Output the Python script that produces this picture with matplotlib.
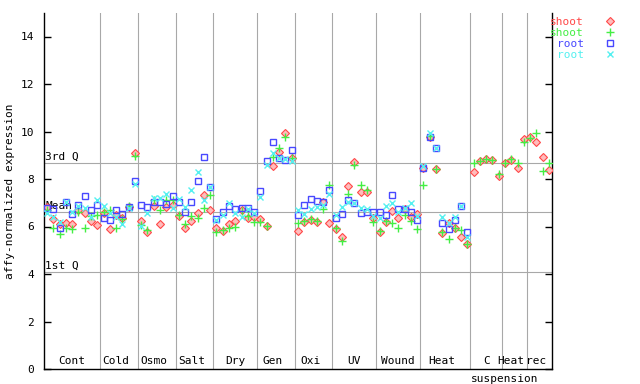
import numpy as np
import matplotlib
matplotlib.use('Agg')
import matplotlib.pyplot as plt
from matplotlib.lines import Line2D

# groups of samples along the x axis
groups = ['Cont', 'Cold', 'Osmo', 'Salt', 'Dry', 'Gen', 'Oxi', 'UV', 'Wound',
          'Heat', 'C', 'Heat', 'rec']
group_sizes = [9, 6, 6, 6, 7, 6, 6, 7, 7, 8, 5, 4, 4]

# shoot, first probe (red diamonds)
shoot_1 = [6.82, 6.30, 6.12, 6.13, 6.10, 6.69, 6.55, 6.25, 6.05,
           6.58, 5.88, 6.50, 6.35, 6.83, 9.08,
           6.25, 5.75, 6.86, 6.09, 6.83, 6.90,
           6.45, 5.95, 6.25, 6.55, 7.32, 6.69,
           5.95, 5.82, 6.10, 6.23, 6.69, 6.34, 6.41,
           6.32, 6.02, 8.55, 9.12, 9.92, 8.87,
           5.81, 6.20, 6.27, 6.20, 7.05, 6.13,
           5.88, 5.57, 7.72, 8.70, 7.47, 7.47, 6.34,
           5.75, 6.18, 6.65, 6.34, 6.72, 6.41, 6.51,
           8.45, 9.75, 8.41, 5.74, 6.13, 5.92, 5.57, 5.26,
           8.28, 8.77, 8.83, 8.80, 8.13,
           8.69, 8.80, 8.45, 9.67,
           9.75, 9.54, 8.91, 8.39]
# shoot, second probe (green plus)
shoot_2 = [6.70, 5.95, 5.67, 5.92, 5.88, 6.60, 5.95, 6.44, 6.48,
           6.62, 6.69, 5.94, 6.32, 6.86, 8.98,
           6.08, 5.85, 7.10, 6.69, 7.10, 7.10,
           6.50, 6.10, 6.46, 6.34, 6.80, 7.32,
           5.75, 5.85, 5.95, 5.96, 6.67, 6.45, 6.18,
           6.20, 6.02, 8.91, 9.32, 9.75, 8.87,
           6.13, 6.25, 6.32, 6.23, 6.75, 7.75,
           5.95, 5.37, 7.35, 8.59, 7.74, 7.54, 6.20,
           5.81, 6.25, 6.13, 5.92, 6.50, 6.23, 5.90,
           7.75, 9.80, 8.41, 5.78, 5.47, 5.92, 5.85, 5.26,
           8.66, 8.77, 8.83, 8.80, 8.20,
           8.69, 8.83, 8.66, 9.57,
           9.71, 9.92, 8.34, 8.69]
nan = np.nan
# root, first probe (blue squares); no root samples for the last groups
root_1 = [6.80, 6.75, 5.95, 7.03, 6.53, 6.92, 7.27, 6.69, 6.89,
          6.34, 6.26, 6.68, 6.51, 6.81, 7.92,
          6.89, 6.83, 7.03, 7.03, 6.93, 7.27,
          7.03, 6.61, 7.03, 7.92, 8.91, 7.65,
          6.30, 6.61, 6.86, 6.72, 6.80, 6.76, 6.62,
          7.49, 8.74, 9.57, 8.87, 8.80, 9.21,
          6.47, 6.89, 7.14, 7.07, 7.05, 7.52,
          6.34, 6.51, 7.12, 7.00, 6.58, 6.60, 6.60,
          6.60, 6.48, 7.31, 6.74, 6.72, 6.60, 6.26,
          8.45, 9.75, 9.32, 6.13, 5.88, 6.27, 6.86, 5.75] + [nan] * 13
# root, second probe (cyan x)
root_2 = [6.58, 6.41, 6.20, 7.05, 6.62, 6.85, 6.79, 6.39, 7.10,
          6.86, 6.55, 6.41, 6.09, 6.78, 7.78,
          6.02, 6.55, 7.19, 7.21, 7.35, 6.76,
          7.16, 6.82, 7.54, 8.28, 7.12, 7.65,
          6.28, 6.48, 6.98, 6.55, 6.39, 6.72, 6.55,
          7.23, 8.58, 9.10, 8.90, 8.83, 8.74,
          6.69, 6.51, 6.72, 6.83, 6.90, 7.37,
          6.48, 6.84, 7.05, 7.00, 6.77, 6.72, 6.45,
          6.34, 6.86, 7.00, 6.60, 6.80, 7.00, 6.45,
          8.56, 9.92, 9.32, 6.39, 6.13, 6.39, 6.86, 5.57] + [nan] * 13

q3_value = 8.66
mean_value = 6.62
q1_value = 4.07

MONO = 'DejaVu Sans Mono'
GRAY = '#a8a8a8'
RED, GREEN, BLUE, CYAN = '#ff4848', '#44ee44', '#4848ff', '#55f0f0'
PINK = '#ffbcbc'

fig = plt.figure(figsize=(6.4, 3.84), dpi=100)
ax = fig.add_axes([44 / 640, 15 / 384, 508 / 640, 356.25 / 384])

n = sum(group_sizes)
x = np.arange(n)
ax.set_xlim(-0.5, n - 0.5)
ax.set_ylim(0, 15)

# reference lines
for val in (q3_value, mean_value, q1_value):
    ax.axhline(val, color=GRAY, lw=0.8, zorder=1)
ends = np.cumsum(group_sizes)
starts = ends - np.array(group_sizes)
for e in ends[:-1]:
    ax.axvline(e - 0.5, color=GRAY, lw=0.8, zorder=1)

ax.text(-0.3, q3_value + 0.05, '3rd Q', fontsize=8, family=MONO, va='bottom')
ax.text(-0.3, mean_value + 0.05, 'Mean', fontsize=8, family=MONO, va='bottom')
ax.text(-0.3, q1_value + 0.05, '1st Q', fontsize=8, family=MONO, va='bottom')

# the points
ax.plot(x, shoot_1, 'D', ms=3.6, mfc=PINK, mec=RED, mew=0.8, zorder=3)
ax.plot(x, shoot_2, '+', ms=6, color=GREEN, mew=1, zorder=3)
ax.plot(x, root_1, 's', ms=4.5, mfc='none', mec=BLUE, mew=1, zorder=4)
ax.plot(x, root_2, 'x', ms=4.5, color=CYAN, mew=1, zorder=4)

# group labels inside the plot, above the x axis
for g, s, size in zip(groups, starts, group_sizes):
    ax.text(s + (size - 1) // 2, 0.12, g, fontsize=8, family=MONO,
            ha='center', va='bottom')
c_idx = groups.index('C')
ax.text(starts[c_idx] - 0.5, -0.2, 'suspension', fontsize=8, family=MONO,
        ha='left', va='top', clip_on=False)

ax.spines['top'].set_visible(False)
for sp in ('left', 'bottom', 'right'):
    ax.spines[sp].set_linewidth(1.0)
ax.set_xticks([])
ax.set_yticks(np.arange(0, 15, 2))
ax.tick_params(axis='y', direction='in', left=True, right=True, length=5,
               width=1, pad=7, labelsize=8)
for lab in ax.get_yticklabels():
    lab.set_family(MONO)

fig.text(10 / 640, 1 - 191 / 384, 'affy-normalized expression', rotation=90,
         fontsize=8, family=MONO, ha='center', va='center')

# legend on the right: text then marker
handles = [Line2D([], [], ls='none', marker='D', ms=3.6, mfc=PINK, mec=RED, mew=0.8),
           Line2D([], [], ls='none', marker='+', ms=6, color=GREEN, mew=1),
           Line2D([], [], ls='none', marker='s', ms=4.5, mfc='none', mec=BLUE, mew=1),
           Line2D([], [], ls='none', marker='x', ms=4.5, color=CYAN, mew=1)]
leg = fig.legend(handles, ['shoot', 'shoot', 'root', 'root'], loc='upper left',
                 bbox_to_anchor=(550 / 640, 1 - 17 / 384), frameon=False,
                 markerfirst=False, handlelength=1, handletextpad=1.9,
                 labelspacing=0.08, borderpad=0, borderaxespad=0,
                 prop={'family': MONO, 'size': 8})
for t, c in zip(leg.get_texts(), [RED, GREEN, BLUE, CYAN]):
    t.set_color(c)

fig.savefig('out.png', dpi=100)
